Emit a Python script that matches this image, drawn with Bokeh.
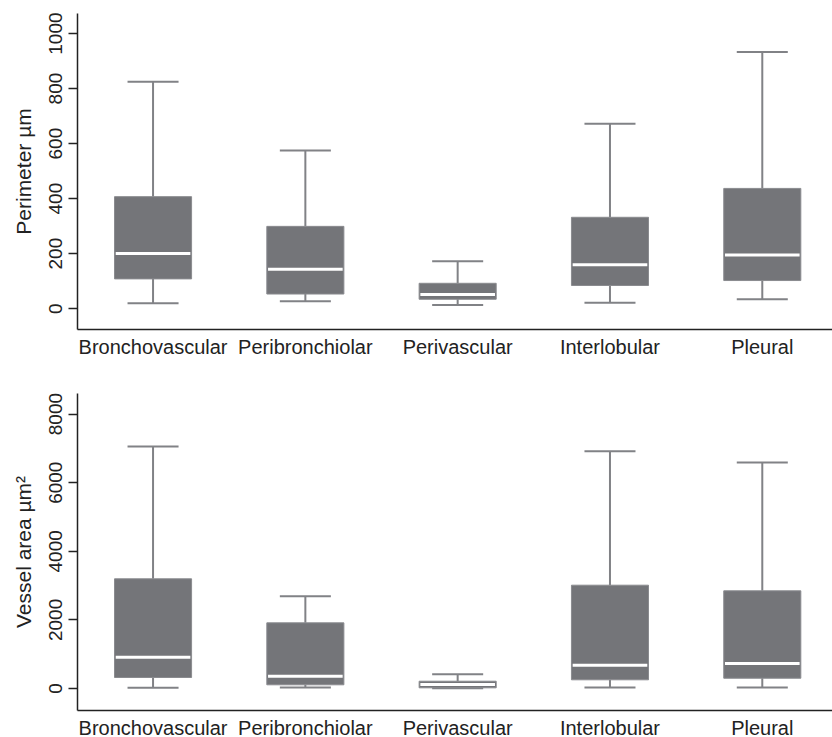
from bokeh.plotting import figure
from bokeh.layouts import column
from bokeh.models import Range1d, FixedTicker
from bokeh.embed import file_html
from bokeh.resources import INLINE

categories = ["Bronchovascular", "Peribronchiolar", "Perivascular", "Interlobular", "Pleural"]
positions = [1, 2, 3, 4, 5]

# Perimeter (µm)
per_lower = [19, 27, 13, 21, 34]
per_q1 = [108, 53, 34, 84, 102]
per_median = [200, 143, 51, 159, 195]
per_q3 = [407, 299, 92, 332, 437]
per_upper = [825, 575, 172, 672, 933]

# Vessel area (µm²)
area_lower = [20, 29, 10, 29, 29]
area_q1 = [321, 108, 20, 254, 300]
area_median = [913, 359, 117, 679, 729]
area_q3 = [3198, 1915, 213, 3012, 2848]
area_upper = [7055, 2691, 417, 6918, 6589]

per_ticks = [0, 200, 400, 600, 800, 1000]
area_ticks = [0, 2000, 4000, 6000, 8000]

FONT = "Liberation Sans"
BOX_FILL = "#747579"
BOX_LINE = "#8a8b8f"
WHISK = "#818286"
TEXT = "#222222"
BOX_W = 0.506
CAP_W = 0.335
MED_W = 0.49


def make_panel(lower, q1, med, q3, upper, yr, ticks, ylabel, fh, mbt, mbb):
    p = figure(frame_width=755, frame_height=fh, min_border_left=77, min_border_right=0,
               min_border_top=mbt, min_border_bottom=mbb,
               x_range=Range1d(0.504, 5.461), y_range=Range1d(*yr),
               output_backend="svg", toolbar_location=None, tools="")
    p.outline_line_color = None
    p.grid.visible = False
    p.background_fill_color = "white"
    p.border_fill_color = "white"

    # whiskers
    p.segment(x0=positions, y0=q3, x1=positions, y1=upper, line_color=WHISK, line_width=2)
    p.segment(x0=positions, y0=lower, x1=positions, y1=q1, line_color=WHISK, line_width=2)
    cap_l = [x - CAP_W / 2 for x in positions]
    cap_r = [x + CAP_W / 2 for x in positions]
    p.segment(x0=cap_l, y0=upper, x1=cap_r, y1=upper, line_color=WHISK, line_width=2)
    p.segment(x0=cap_l, y0=lower, x1=cap_r, y1=lower, line_color=WHISK, line_width=2)
    # boxes
    p.vbar(x=positions, width=BOX_W, bottom=q1, top=q3, fill_color=BOX_FILL,
           line_color=BOX_LINE, line_width=1)
    # medians
    med_l = [x - MED_W / 2 for x in positions]
    med_r = [x + MED_W / 2 for x in positions]
    p.segment(x0=med_l, y0=med, x1=med_r, y1=med, line_color="white", line_width=3)

    xa = p.xaxis[0]
    xa.ticker = FixedTicker(ticks=positions)
    xa.major_label_overrides = {i: c for i, c in zip(positions, categories)}
    xa.major_tick_out = 0
    xa.major_tick_in = 0
    xa.minor_tick_out = 0
    xa.minor_tick_in = 0
    xa.major_label_standoff = 6
    xa.major_label_text_font = FONT
    xa.major_label_text_font_size = "20px"
    xa.major_label_text_color = TEXT
    xa.axis_line_color = TEXT
    xa.axis_line_width = 1.5

    ya = p.yaxis[0]
    ya.ticker = FixedTicker(ticks=ticks)
    ya.major_tick_out = 9
    ya.major_tick_in = 0
    ya.minor_tick_out = 0
    ya.minor_tick_in = 0
    ya.major_tick_line_color = TEXT
    ya.major_tick_line_width = 1.5
    ya.major_label_orientation = "parallel"
    ya.major_label_standoff = 6
    ya.major_label_text_font = FONT
    ya.major_label_text_font_size = "19px"
    ya.major_label_text_color = TEXT
    ya.axis_line_color = TEXT
    ya.axis_line_width = 1.5
    ya.axis_label = ylabel
    ya.axis_label_text_font = FONT
    ya.axis_label_text_font_size = "21px"
    ya.axis_label_text_font_style = "normal"
    ya.axis_label_text_color = TEXT
    ya.axis_label_standoff = 12
    return p


p1 = make_panel(per_lower, per_q1, per_median, per_q3, per_upper, (-76, 1073), per_ticks,
                "Perimeter µm", 316, 13, 40)
p2 = make_panel(area_lower, area_q1, area_median, area_q3, area_upper, (-641, 8601), area_ticks,
                "Vessel area µm²", 317, 24, 27)

layout = column(p1, p2, spacing=0)
open("out.html", "w").write(file_html(layout, INLINE))
